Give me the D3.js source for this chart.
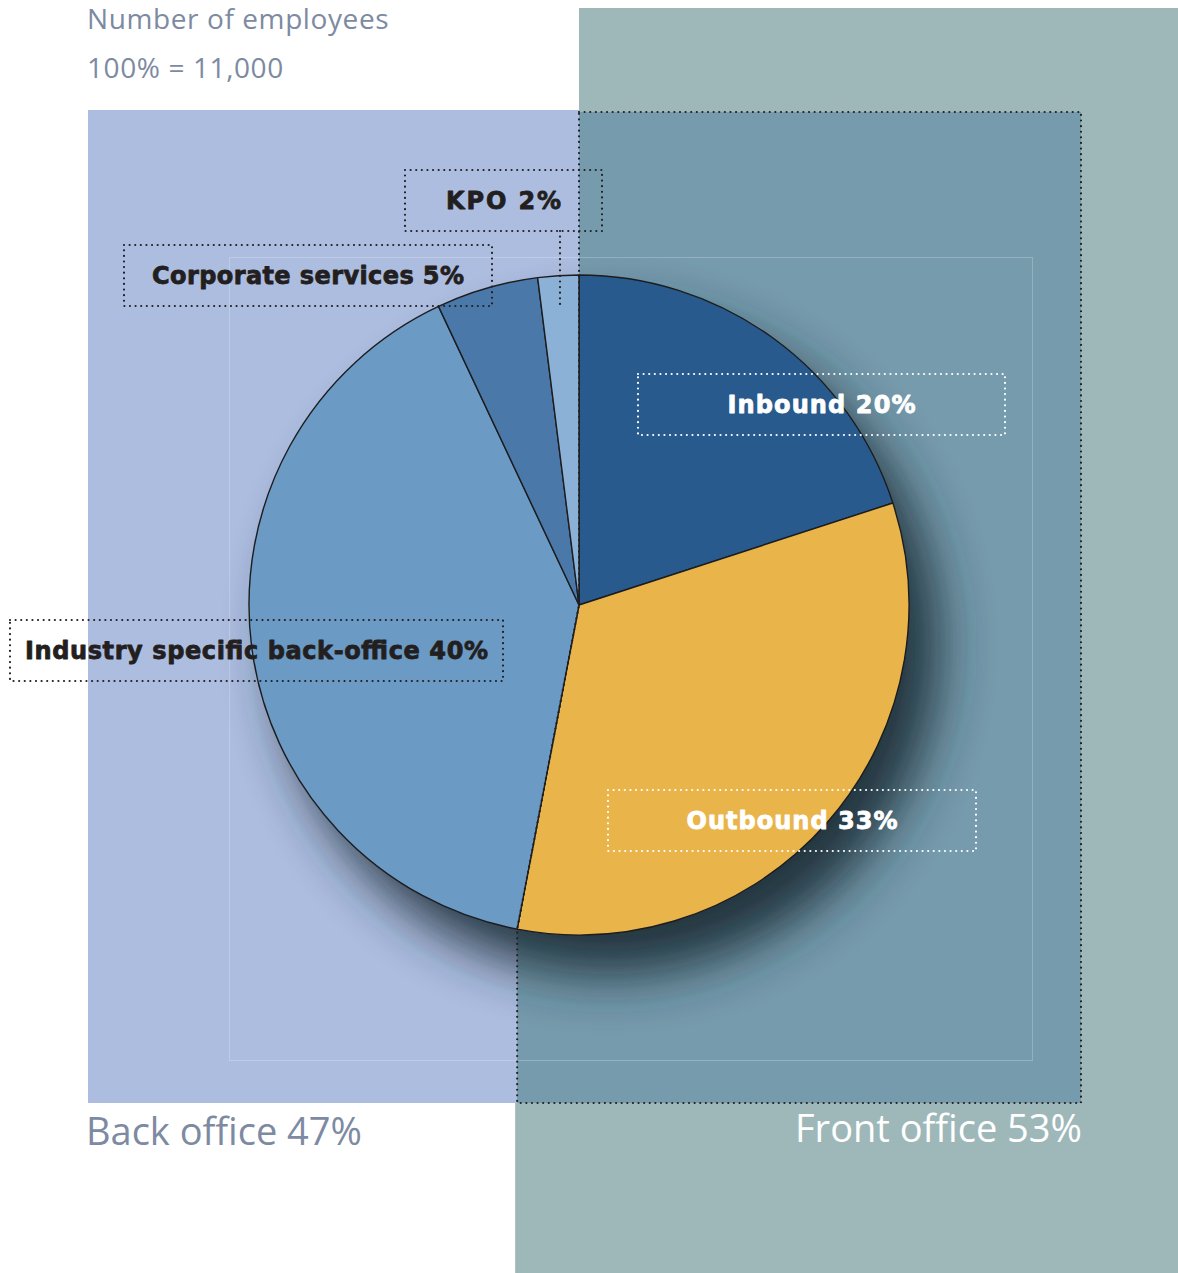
<!DOCTYPE html>
<html>
<head>
<meta charset="utf-8">
<script src="https://cdn.jsdelivr.net/npm/d3@7"></script>
<style>
    body { margin: 0; background: #ffffff; }
    svg { display: block; }
</style>
</head>
<body>
<script>
let titleLines = ["Number of employees", "100% = 11,000"];
let segments = ["Inbound", "Outbound", "Industry specific back-office", "Corporate services", "KPO"];
let shares = [20, 33, 40, 5, 2];
let sliceColors = ["#285a8e", "#e9b54a", "#6b9ac4", "#4a78a9", "#8bb1d7"];
let groups = ["Back office", "Front office"];
let groupShares = [47, 53];

let svgContainer,
    svgWidth = 1178,
    svgHeight = 1273,
    center = {x: 579, y: 605},
    radius = 330;

// label boxes, same order as segments (w = text width)
let labelBoxes = [
    {x0: 638, y0: 374, x1: 1005, y1: 435, w: 188, color: "#ffffff"},
    {x0: 608, y0: 790, x1: 976, y1: 851, w: 211, color: "#ffffff"},
    {x0: 10, y0: 620, x1: 503, y1: 681, w: 463, color: "#231f20"},
    {x0: 124, y0: 245, x1: 492, y1: 306, w: 312, color: "#231f20"},
    {x0: 405, y0: 170, x1: 602, y1: 231, w: 115, color: "#231f20"}
];

let dotted = {width: 2.2, dash: "0.01 5.6"};

function init() {
    svgContainer = d3.select("body").append("svg")
        .attr("width", svgWidth)
        .attr("height", svgHeight);

    let arcs = d3.pie().sort(null).value(d => d)(shares);
    let split = pointOnCircle(arcs[1].endAngle);

    drawBackground(split);
    drawShadow();
    drawPie(arcs);
    drawFrontOutline(split);
    drawLabels();
    drawTexts();
}

function pointOnCircle(a) {
    return {x: center.x + radius * Math.sin(a), y: center.y - radius * Math.cos(a)};
}

function drawBackground(split) {
    let lx = split.x;
    // light teal
    svgContainer.append("path")
        .attr("d", d3.line()([[579, 8], [1178, 8], [1178, 1273], [lx - 2, 1273], [lx - 2, 1103], [579, 1103]]) + "Z")
        .attr("fill", "#9eb8b9");

    // back office block
    svgContainer.append("rect")
        .attr("x", 88).attr("y", 110)
        .attr("width", 579 - 88).attr("height", 1103 - 110)
        .attr("fill", "#adbde0");

    // front office block
    svgContainer.append("path")
        .attr("d", d3.line()([[579, 112], [1081, 112], [1081, 1103], [lx, 1103], [lx, split.y], [center.x, center.y]]) + "Z")
        .attr("fill", "#769bad");

    // faint inner frame
    svgContainer.append("rect")
        .attr("x", 229.5).attr("y", 257.5)
        .attr("width", 1032 - 229).attr("height", 1060 - 257)
        .attr("fill", "none")
        .attr("stroke", "rgba(255,255,255,0.22)")
        .attr("stroke-width", 1);
}

function drawShadow() {
    let defs = svgContainer.append("defs");
    defs.append("filter")
        .attr("id", "blur")
        .attr("x", "-40%").attr("y", "-40%")
        .attr("width", "180%").attr("height", "180%")
        .append("feGaussianBlur")
        .attr("stdDeviation", 27);

    svgContainer.append("circle")
        .attr("cx", center.x + 30)
        .attr("cy", center.y + 40)
        .attr("r", radius)
        .attr("fill", "#1f2d37")
        .attr("opacity", 0.95)
        .attr("filter", "url(#blur)");
}

function drawPie(arcs) {
    let arc = d3.arc().innerRadius(0).outerRadius(radius);
    svgContainer.append("g")
        .attr("transform", "translate(" + center.x + "," + center.y + ")")
        .selectAll("path")
        .data(arcs)
        .enter()
        .append("path")
        .attr("d", arc)
        .attr("fill", (d, i) => sliceColors[i])
        .attr("stroke", "#1d1d1f")
        .attr("stroke-width", 1.4)
        .attr("stroke-linejoin", "round");
}

function dottedStyle(sel, color) {
    return sel.attr("fill", "none")
        .attr("stroke", color)
        .attr("stroke-width", dotted.width)
        .attr("stroke-dasharray", dotted.dash)
        .attr("stroke-linecap", "round");
}

function drawFrontOutline(split) {
    let p = d3.line()([[579, 112], [1081, 112], [1081, 1103], [split.x, 1103], [split.x, split.y], [center.x, center.y]]) + "Z";
    dottedStyle(svgContainer.append("path").attr("d", p), "#231f20");
}

function drawLabels() {
    segments.forEach((name, i) => {
        let b = labelBoxes[i];
        dottedStyle(svgContainer.append("rect")
            .attr("x", b.x0).attr("y", b.y0)
            .attr("width", b.x1 - b.x0).attr("height", b.y1 - b.y0), b.color);

        // heavy label, thickened with a thin stroke of the same colour
        svgContainer.append("text")
            .attr("x", (b.x0 + b.x1) / 2)
            .attr("y", (b.y0 + b.y1) / 2 + 8.5)
            .attr("text-anchor", "middle")
            .attr("font-family", "'DejaVu Sans', sans-serif")
            .attr("font-weight", "bold")
            .attr("font-size", 24)
            .attr("textLength", b.w)
            .attr("lengthAdjust", "spacing")
            .attr("fill", b.color)
            .attr("stroke", b.color)
            .attr("stroke-width", 0.8)
            .attr("stroke-linejoin", "round")
            .text(name + " " + shares[i] + "%");
    });

    // KPO leader
    dottedStyle(svgContainer.append("line")
        .attr("x1", 560).attr("y1", 231)
        .attr("x2", 560).attr("y2", 307), "#231f20");
}

function drawTexts() {
    let font = "'Open Sans', 'Noto Sans', sans-serif";
    svgContainer.selectAll(".title")
        .data(titleLines)
        .enter()
        .append("text")
        .attr("class", "title")
        .attr("x", 87)
        .attr("y", (d, i) => 29 + i * 49)
        .attr("font-family", font)
        .attr("font-size", 28)
        .attr("letter-spacing", 0.6)
        .attr("fill", "#7d8aa2")
        .text(d => d);

    svgContainer.append("text")
        .attr("x", 86).attr("y", 1145)
        .attr("font-family", font)
        .attr("font-size", 38)
        .attr("fill", "#7d8aa2")
        .text(groups[0] + " " + groupShares[0] + "%");

    svgContainer.append("text")
        .attr("x", 1082).attr("y", 1142)
        .attr("text-anchor", "end")
        .attr("font-family", font)
        .attr("font-size", 38)
        .attr("fill", "#ffffff")
        .text(groups[1] + " " + groupShares[1] + "%");
}

init();
</script>
</body>
</html>
